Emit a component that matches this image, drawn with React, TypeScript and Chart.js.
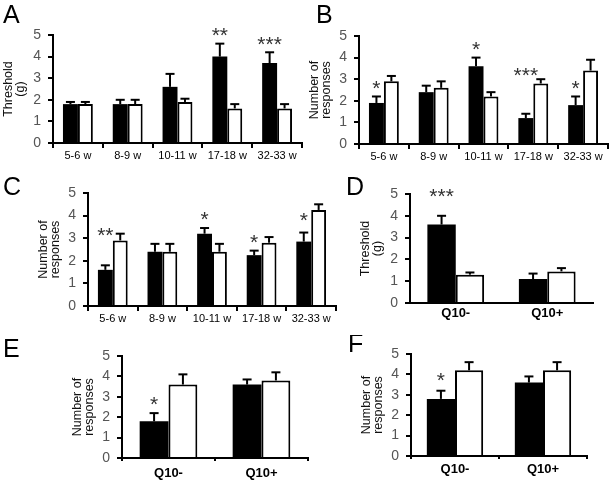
import React, { useEffect, useRef } from 'react';
import { Chart, registerables } from 'chart.js';

Chart.register(...registerables);

// ---------- data ----------
const weekCats = ['5-6 w', '8-9 w', '10-11 w', '17-18 w', '32-33 w'];
const qCats = ['Q10-', 'Q10+'];

const aBlack = [1.8, 1.8, 2.6, 4.0, 3.7];
const aBlackErr = [1.9, 2.0, 3.2, 4.6, 4.2];
const aWhite = [1.8, 1.8, 1.9, 1.6, 1.6];
const aWhiteErr = [1.9, 2.0, 2.05, 1.8, 1.8];
const aStarCats = [3, 4];
const aStarTexts = ['**', '***'];
const aStarLevels = [5.22, 4.84];

const bBlack = [1.9, 2.4, 3.6, 1.2, 1.8];
const bBlackErr = [2.2, 2.7, 4.0, 1.4, 2.2];
const bWhite = [2.9, 2.6, 2.2, 2.8, 3.4];
const bWhiteErr = [3.15, 2.9, 2.4, 3.0, 3.9];
const bStarCats = [0, 2, 3, 4];
const bStarTexts = ['*', '*', '***', '*'];
const bStarLevels = [2.83, 4.64, 3.42, 2.83];

const cBlack = [1.6, 2.4, 3.2, 2.25, 2.85];
const cBlackErr = [1.8, 2.75, 3.45, 2.45, 3.25];
const cWhite = [2.9, 2.4, 2.4, 2.8, 4.25];
const cWhiteErr = [3.2, 2.75, 2.75, 3.05, 4.5];
const cStarCats = [0, 2, 3, 4];
const cStarTexts = ['**', '*', '*', '*'];
const cStarLevels = [3.37, 4.1, 3.08, 4.03];

const dBlack = [3.6, 1.1];
const dBlackErr = [4.0, 1.35];
const dWhite = [1.3, 1.45];
const dWhiteErr = [1.4, 1.6];
const dStarCats = [0];
const dStarTexts = ['***'];
const dStarLevels = [5.13];

const eBlack = [1.8, 3.6];
const eBlackErr = [2.2, 3.85];
const eWhite = [3.6, 3.8];
const eWhiteErr = [4.1, 4.2];
const eStarCats = [0];
const eStarTexts = ['*'];
const eStarLevels = [2.92];

const fBlack = [2.8, 3.6];
const fBlackErr = [3.2, 3.9];
const fWhite = [4.2, 4.2];
const fWhiteErr = [4.6, 4.6];
const fStarCats = [0];
const fStarTexts = ['*'];
const fStarLevels = [3.98];

const yTicks = [0, 1, 2, 3, 4, 5];
const thresholdTitle = ['Threshold', '(g)'];
const responsesTitle = ['Number of', 'responses'];

// ---------- styling / layout ----------
const FONT = '"Liberation Sans", Arial, Helvetica, sans-serif';

type Panel = {
  letter: string;
  cats: string[];
  black: number[];
  blackErr: number[];
  white: number[];
  whiteErr: number[];
  starCats: number[];
  starTexts: string[];
  starLevels: number[];
  title: string[];
  left: number; top: number; width: number; height: number;
  plotL: number; plotR: number; plotT: number; plotB: number;
  xH: number; xTick: number; xPad: number; xFont: number; xWeight: string;
  catPct: number;
  letterX: number; letterY: number;
};

const panels: Panel[] = [
  {
    letter: 'A', cats: weekCats, black: aBlack, blackErr: aBlackErr, white: aWhite, whiteErr: aWhiteErr,
    starCats: aStarCats, starTexts: aStarTexts, starLevels: aStarLevels, title: thresholdTitle,
    left: 0, top: 0, width: 306, height: 170,
    plotL: 53, plotR: 302, plotT: 35, plotB: 143,
    xH: 22, xTick: 5, xPad: 1.2, xFont: 11, xWeight: 'normal', catPct: 0.6,
    letterX: 3, letterY: 23,
  },
  {
    letter: 'B', cats: weekCats, black: bBlack, blackErr: bBlackErr, white: bWhite, whiteErr: bWhiteErr,
    starCats: bStarCats, starTexts: bStarTexts, starLevels: bStarLevels, title: responsesTitle,
    left: 306, top: 0, width: 306, height: 170,
    plotL: 53, plotR: 302, plotT: 36, plotB: 144,
    xH: 22, xTick: 5, xPad: 1.2, xFont: 11, xWeight: 'normal', catPct: 0.6,
    letterX: 10, letterY: 23,
  },
  {
    letter: 'C', cats: weekCats, black: cBlack, blackErr: cBlackErr, white: cWhite, whiteErr: cWhiteErr,
    starCats: cStarCats, starTexts: cStarTexts, starLevels: cStarLevels, title: responsesTitle,
    left: 0, top: 170, width: 345, height: 165,
    plotL: 88, plotR: 336, plotT: 23, plotB: 136,
    xH: 22, xTick: 5, xPad: 1.2, xFont: 11, xWeight: 'normal', catPct: 0.6,
    letterX: 3, letterY: 25,
  },
  {
    letter: 'D', cats: qCats, black: dBlack, blackErr: dBlackErr, white: dWhite, whiteErr: dWhiteErr,
    starCats: dStarCats, starTexts: dStarTexts, starLevels: dStarLevels, title: thresholdTitle,
    left: 345, top: 170, width: 267, height: 165,
    plotL: 65, plotR: 248, plotT: 24, plotB: 133,
    xH: 22, xTick: 0, xPad: 3, xFont: 13, xWeight: 'bold', catPct: 0.62,
    letterX: 1, letterY: 25,
  },
  {
    letter: 'E', cats: qCats, black: eBlack, blackErr: eBlackErr, white: eWhite, whiteErr: eWhiteErr,
    starCats: eStarCats, starTexts: eStarTexts, starLevels: eStarLevels, title: responsesTitle,
    left: 0, top: 335, width: 320, height: 147,
    plotL: 122, plotR: 308, plotT: 21, plotB: 123,
    xH: 24, xTick: 3, xPad: 4.2, xFont: 13, xWeight: 'bold', catPct: 0.62,
    letterX: 3, letterY: 22,
  },
  {
    letter: 'F', cats: qCats, black: fBlack, blackErr: fBlackErr, white: fWhite, whiteErr: fWhiteErr,
    starCats: fStarCats, starTexts: fStarTexts, starLevels: fStarLevels, title: responsesTitle,
    left: 320, top: 335, width: 292, height: 147,
    plotL: 91, plotR: 267, plotT: 19, plotB: 121,
    xH: 24, xTick: 3, xPad: 2.2, xFont: 13, xWeight: 'bold', catPct: 0.64,
    letterX: 28, letterY: 17,
  },
];

const STAR_SIZE = 21;
const TITLE_SIZE = 12.5;
const TITLE_LH = 0.92;

const annotPlugin = {
  id: 'annot',
  afterDatasetsDraw(chart: any, _args: any, opts: any) {
    const { ctx } = chart;
    const ys = chart.scales.y;
    ctx.save();
    ctx.strokeStyle = '#000';
    ctx.lineWidth = 2;
    ctx.lineCap = 'butt';
    [opts.blackErr, opts.whiteErr].forEach((errs: number[], di: number) => {
      const meta = chart.getDatasetMeta(di);
      meta.data.forEach((bar: any, i: number) => {
        const x = bar.x;
        const ey = ys.getPixelForValue(errs[i]);
        ctx.beginPath();
        ctx.moveTo(x, bar.y);
        ctx.lineTo(x, ey);
        ctx.stroke();
        ctx.beginPath();
        ctx.moveTo(x - 4.5, ey);
        ctx.lineTo(x + 4.5, ey);
        ctx.stroke();
      });
    });
    ctx.font = `${STAR_SIZE}px ${FONT}`;
    ctx.fillStyle = '#333';
    ctx.textAlign = 'center';
    ctx.textBaseline = 'alphabetic';
    const blackMeta = chart.getDatasetMeta(0);
    opts.starCats.forEach((c: number, k: number) => {
      const bar: any = blackMeta.data[c];
      const cy = ys.getPixelForValue(opts.starLevels[k]);
      ctx.fillText(opts.starTexts[k], bar.x, cy + 0.58 * STAR_SIZE);
    });
    ctx.font = `25px ${FONT}`;
    ctx.fillStyle = '#000';
    ctx.textAlign = 'left';
    ctx.fillText(opts.letter, opts.letterX, opts.letterY);
    ctx.restore();
  },
};

function PanelChart({ p }: { p: Panel }) {
  const ref = useRef<HTMLCanvasElement | null>(null);
  useEffect(() => {
    if (!ref.current) return;
    const W = p.plotL;
    const titleLH = TITLE_SIZE * TITLE_LH;
    const chart = new Chart(ref.current, {
      type: 'bar',
      data: {
        labels: p.cats,
        datasets: [
          {
            data: p.black, backgroundColor: '#000', borderColor: '#000', borderWidth: 0,
            categoryPercentage: p.catPct, barPercentage: 1,
          },
          {
            data: p.white, backgroundColor: '#fff', borderColor: '#000', borderWidth: 2,
            categoryPercentage: p.catPct, barPercentage: 1,
          },
        ],
      },
      options: {
        animation: false,
        responsive: false,
        devicePixelRatio: 1,
        layout: {
          padding: {
            left: 0,
            top: p.plotT,
            right: p.width - p.plotR,
            bottom: p.height - p.plotB - p.xH,
          },
        },
        plugins: {
          legend: { display: false },
          tooltip: { enabled: false },
          annot: {
            blackErr: p.blackErr, whiteErr: p.whiteErr,
            starCats: p.starCats, starTexts: p.starTexts, starLevels: p.starLevels,
            letter: p.letter, letterX: p.letterX, letterY: p.letterY,
          },
        } as any,
        scales: {
          x: {
            type: 'category',
            offset: true,
            grid: {
              display: true, offset: true, drawOnChartArea: false, drawTicks: true,
              tickLength: p.xTick, color: '#000', lineWidth: 2,
            },
            border: { display: true, color: '#000', width: 2 },
            ticks: {
              color: '#000', padding: p.xPad, maxRotation: 0, autoSkip: false,
              font: { family: FONT, size: p.xFont, weight: p.xWeight as any },
            },
            afterFit: (s: any) => { s.height = p.xH; },
          },
          y: {
            type: 'linear',
            min: 0, max: 5,
            afterBuildTicks: (s: any) => { s.ticks = yTicks.map((v) => ({ value: v })); },
            ticks: {
              color: '#555', padding: 7,
              font: { family: FONT, size: 14 },
            },
            grid: {
              display: true, drawOnChartArea: false, drawTicks: true,
              tickLength: 5, color: '#000', lineWidth: 2,
            },
            border: { display: true, color: '#000', width: 2 },
            title: {
              display: true, text: p.title, color: '#111',
              font: { family: FONT, size: TITLE_SIZE, lineHeight: TITLE_LH },
              padding: { top: W - 44 - titleLH / 2, bottom: 0 },
            },
            afterFit: (s: any) => { s.width = W; },
          },
        },
      },
      plugins: [annotPlugin],
    });
    return () => chart.destroy();
  }, [p]);
  return (
    <canvas
      ref={ref}
      width={p.width}
      height={p.height}
      style={{ position: 'absolute', left: p.left, top: p.top, width: p.width, height: p.height }}
    />
  );
}

export default function App() {
  return (
    <div style={{ position: 'absolute', left: 0, top: 0, width: 612, height: 482, background: '#fff', overflow: 'hidden' }}>
      {panels.map((p) => (
        <PanelChart key={p.letter} p={p} />
      ))}
    </div>
  );
}
